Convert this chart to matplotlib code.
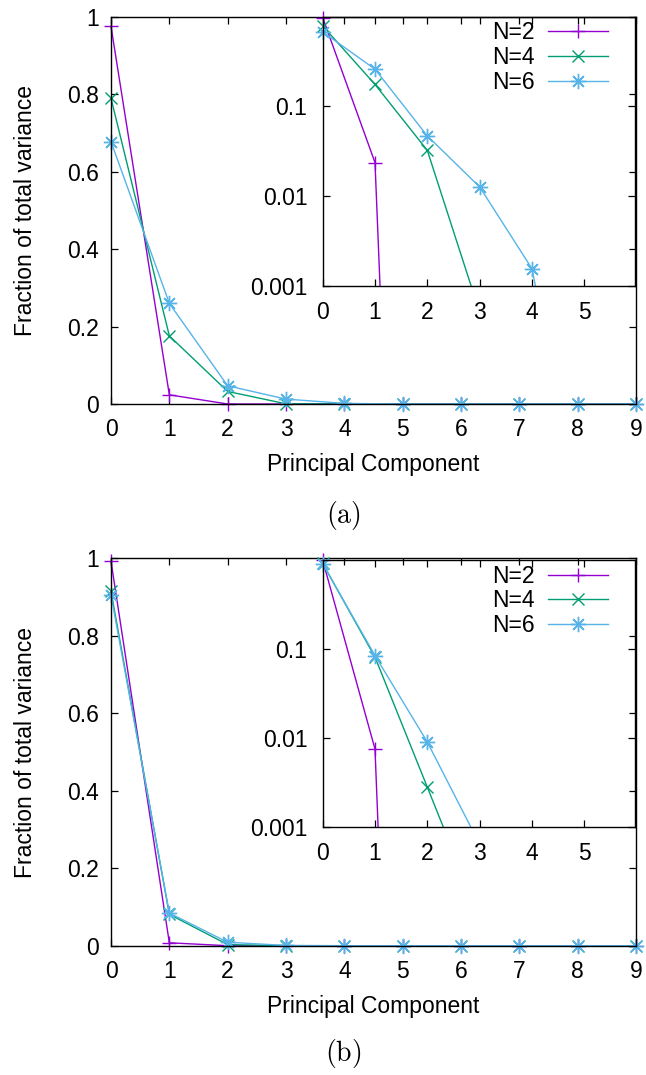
import matplotlib
matplotlib.use("Agg")
import matplotlib.pyplot as plt
import numpy as np

plt.rcParams['font.family'] = ['Liberation Sans', 'DejaVu Sans']
plt.rcParams['mathtext.fontset'] = 'cm'

# ---------------- data ----------------
pc = [0, 1, 2, 3, 4, 5, 6, 7, 8, 9]
labels = ["N=2", "N=4", "N=6"]

# panel (a)
a_N2 = [0.976, 0.0237, 1.1e-16, 9e-17, 8e-17, 7e-17, 6e-17, 5e-17, 4e-17, 3e-17]
a_N4 = [0.790, 0.176, 0.0324, 5.1e-4, 3e-6, 2e-8, 1e-10, 1e-12, 1e-14, 1e-16]
a_N6 = [0.678, 0.260, 0.047, 0.0127, 0.00156, 2e-6, 1e-8, 1e-10, 1e-12, 1e-14]

# panel (b)
b_N2 = [0.9925, 0.0075, 1e-17, 9e-18, 8e-18, 7e-18, 6e-18, 5e-18, 4e-18, 3e-18]
b_N4 = [0.915, 0.081, 0.0028, 9.6e-5, 1e-6, 1e-8, 1e-10, 1e-12, 1e-14, 1e-16]
b_N6 = [0.905, 0.0843, 0.0090, 6.4e-4, 5e-6, 3e-8, 1e-10, 1e-12, 1e-14, 1e-16]

main_xticks = [0, 1, 2, 3, 4, 5, 6, 7, 8, 9]
main_yticks = [0, 0.2, 0.4, 0.6, 0.8, 1]
main_yticklabels = ["0", "0.2", "0.4", "0.6", "0.8", "1"]
inset_xticks = [0, 1, 2, 3, 4, 5]
inset_yticks = [0.001, 0.01, 0.1]
inset_yticklabels = ["0.001", "0.01", "0.1"]

colors = ["#9400d3", "#009e73", "#56b4e9"]
markers = ["+", "x", (8, 2, 0)]
msizes = [10, 9, 11]

W, H = 646, 1075
fig = plt.figure(figsize=(W / 100, H / 100), dpi=100)

FS = 16.5


def frac(l, t, r, b):
    return [l / W, 1 - b / H, (r - l) / W, (b - t) / H]


def style_axes(ax, pad_x, pad_y):
    for s in ax.spines.values():
        s.set_linewidth(1.0)
        s.set_color("black")
    ax.tick_params(direction="in", which="major", length=5, width=0.9,
                   top=True, right=True, labelsize=FS)
    ax.tick_params(axis="x", pad=pad_x)
    ax.tick_params(axis="y", pad=pad_y)


def make_panel(top, bottom, itop, ibottom, series, caption, cap_y):
    ax = fig.add_axes(frac(111, top, 636, bottom))
    for vals, c, m, ms in zip(series, colors, markers, msizes):
        ax.plot(pc, vals, color=c, lw=1.0, marker=m, ms=ms, mew=1.0,
                clip_on=False)
    ax.set_xlim(0, 9)
    ax.set_ylim(0, 1)
    ax.set_xticks(main_xticks)
    ax.set_yticks(main_yticks)
    ax.set_yticklabels(main_yticklabels)
    style_axes(ax, 10, 9)
    ax.set_xlabel("Principal Component", fontsize=FS, labelpad=9)
    ax.set_ylabel("Fraction of total variance", fontsize=FS, labelpad=21)
    fig.text(343 / W, 1 - cap_y / H, r"$\mathrm{(" + caption + ")}$",
             fontsize=20, ha="center", va="center")

    ins = fig.add_axes(frac(322.7, itop, 635, ibottom))
    ins.patch.set_alpha(0)
    ins.set_yscale("log")
    ins.set_xlim(0, 5.97)
    ins.set_ylim(0.001, 1.0)
    for vals, c, m, ms, lab in zip(series, colors, markers, msizes, labels):
        ins.plot(pc, vals, color=c, lw=1.0)
        xs = [x for x, v in zip(pc, vals) if v >= 0.001 and x <= 5.97]
        vs = [v for x, v in zip(pc, vals) if v >= 0.001 and x <= 5.97]
        ins.plot(xs, vs, ls="none", color=c, marker=m, ms=ms, mew=1.0,
                 clip_on=False)
        ins.plot([], [], color=c, lw=1.0, marker=m, ms=ms, mew=1.0, label=lab)
    ins.set_xticks(inset_xticks)
    ins.set_yticks(inset_yticks)
    ins.set_yticklabels(inset_yticklabels)
    ins.minorticks_off()
    style_axes(ins, 11, 11)
    h, l = ins.get_legend_handles_labels()
    ins.legend(h[:3], l[:3], loc="upper right", bbox_to_anchor=(0.9136, 0.983),
               frameon=False, markerfirst=False, fontsize=FS, numpoints=1,
               handlelength=2.6, handletextpad=0.6, labelspacing=0.08,
               borderpad=0, borderaxespad=0)
    return ax, ins


make_panel(17, 404, 16.7, 286, [a_N2, a_N4, a_N6], "a", 515)
make_panel(558.3, 945.7, 560, 827, [b_N2, b_N4, b_N6], "b", 1053)

fig.savefig("out.png", dpi=100)
